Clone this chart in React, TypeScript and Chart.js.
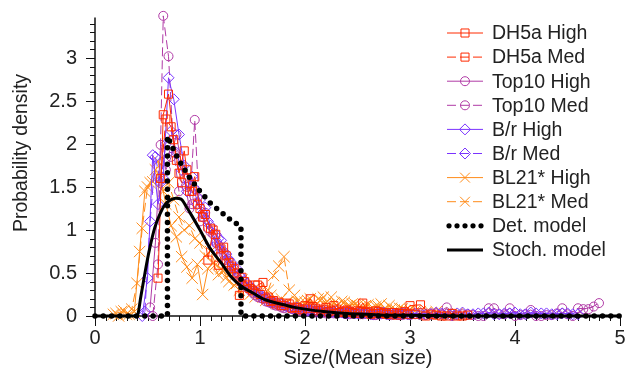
import React, { useEffect, useRef } from 'react';
import { Chart, registerables } from 'chart.js';

Chart.register(...registerables);

// ---------- bins (Size / Mean size) ----------
const BINS_A = [
  0, 0.05, 0.1, 0.15, 0.2, 0.25, 0.3, 0.35, 0.4, 0.45,
  0.5, 0.55, 0.6, 0.65, 0.7, 0.75, 0.8, 0.85, 0.9, 0.95,
  1.0, 1.05, 1.1, 1.15, 1.2, 1.25, 1.3, 1.35, 1.4, 1.45,
  1.5, 1.55, 1.6, 1.65, 1.7, 1.75, 1.8, 1.85, 1.9, 1.95,
  2.0, 2.05, 2.1, 2.15, 2.2, 2.25, 2.3, 2.35, 2.4, 2.45,
  2.5, 2.55, 2.6, 2.65, 2.7, 2.75, 2.8, 2.85, 2.9, 2.95,
  3.0, 3.1, 3.2, 3.3, 3.4, 3.5, 3.6, 3.7, 3.8, 3.9,
  4.0, 4.1, 4.2, 4.3, 4.4, 4.5, 4.6, 4.7, 4.8,
];
const BINS_B = [
  0.025, 0.075, 0.125, 0.175, 0.225, 0.275, 0.325, 0.375, 0.425, 0.475,
  0.525, 0.575, 0.625, 0.675, 0.725, 0.775, 0.825, 0.875, 0.925, 0.975,
  1.025, 1.075, 1.125, 1.175, 1.225, 1.275, 1.325, 1.375, 1.425, 1.475,
  1.525, 1.575, 1.625, 1.675, 1.725, 1.775, 1.825, 1.875, 1.925, 1.975,
  2.025, 2.075, 2.125, 2.175, 2.225, 2.275, 2.325, 2.375, 2.425, 2.475,
  2.525, 2.575, 2.625, 2.675, 2.725, 2.775, 2.825, 2.875, 2.925, 2.975,
  3.05, 3.15, 3.25, 3.35, 3.45, 3.55, 3.65, 3.75, 3.85, 3.95,
  4.05, 4.15, 4.25, 4.35, 4.45, 4.55, 4.65, 4.75,
];

// ---------- measured densities ----------
const DH5A_HIGH = [
  null, null, null, null, null, null, null, null, null, null,
  null, null, 0.44, 2.34, 2.58, 2.05, 1.66, 1.92, 1.45, 1.62,
  1.25, 1.18, 1.02, 0.95, 0.78, 0.70, 0.58, 0.50, 0.45, 0.36,
  0.30, 0.36, 0.39, 0.22, 0.18, 0.16, 0.12, 0.14, 0.10, 0.08,
  0.12, 0.20, 0.09, 0.07, 0.10, 0.06, 0.08, 0.05, 0.07, 0.04,
  0.06, 0.15, 0.05, 0.03, 0.05, 0.04, 0.02, 0.04, 0.03, 0.05,
  0.12, 0.13, 0.02, 0.00, 0.03, 0.00,
];
const DH5A_MED = [
  null, null, null, null, null, null, null, null, null, null,
  null, null, 1.60, 2.29, 2.20, 1.81, 1.55, 1.70, 1.45, 1.30,
  1.15, 0.65, 1.00, 0.59, 0.80, 0.62, 0.55, 0.24, 0.40, 0.32,
  0.36, 0.25, 0.20, 0.17, 0.14, 0.12, 0.15, 0.09, 0.10, 0.07,
  0.09, 0.11, 0.06, 0.08, 0.05, 0.12, 0.04, 0.06, 0.05, 0.03,
  0.05, 0.04, 0.02, 0.06, 0.03, 0.02, 0.04, 0.01, 0.03, 0.02,
  0.02, 0.00, 0.01, 0.00, 0.00, 0.01,
];
const TOP10_HIGH = [
  null, null, null, null, null, null, null, null, null, null,
  0.10, 0.85, 1.99, 1.70, 1.85, 2.11, 1.75, 1.50, 1.30, 1.38,
  1.15, 1.02, 0.95, 0.82, 0.72, 0.60, 0.50, 0.42, 0.35, 0.30,
  0.24, 0.21, 0.17, 0.15, 0.12, 0.10, 0.11, 0.08, 0.07, 0.06,
  0.07, 0.05, 0.06, 0.04, 0.05, 0.03, 0.04, 0.03, 0.02, 0.03,
  0.02, 0.03, 0.02, 0.01, 0.02, 0.03, 0.01, 0.02, 0.01, 0.02,
  0.02, 0.01, 0.03, 0.10, 0.01, 0.02, 0.00, 0.09, 0.02, 0.09,
  0.01, 0.07, 0.00, 0.01, 0.09, 0.00, 0.08, 0.11,
];
const TOP10_MED = [
  null, null, null, null, null, null, null, null, null, null,
  null, 0.00, 0.60, 3.49, 3.02, 1.90, 1.45, 1.60, 1.25, 2.28,
  1.10, 1.20, 0.98, 0.85, 0.70, 0.65, 0.52, 0.45, 0.38, 0.33,
  0.27, 0.22, 0.20, 0.16, 0.13, 0.12, 0.09, 0.10, 0.07, 0.06,
  0.05, 0.07, 0.04, 0.06, 0.03, 0.05, 0.03, 0.04, 0.02, 0.03,
  0.03, 0.02, 0.04, 0.01, 0.02, 0.03, 0.01, 0.02, 0.01, 0.02,
  0.01, 0.01, 0.03, 0.02, 0.00, 0.02, 0.01, 0.00, 0.09, 0.02,
  0.00, 0.02, 0.00, 0.01, 0.03, 0.02, 0.09, 0.08, 0.15,
];
const BR_HIGH = [
  null, null, null, null, null, null, null, null, null, 0.00,
  0.44, 1.87, 1.30, 1.60, 2.77, 2.52, 2.11, 1.75, 1.55, 1.48,
  1.35, 1.26, 1.05, 0.95, 0.88, 0.72, 0.62, 0.55, 0.44, 0.38,
  0.32, 0.27, 0.22, 0.20, 0.16, 0.14, 0.12, 0.10, 0.09, 0.08,
  0.07, 0.06, 0.07, 0.05, 0.06, 0.04, 0.05, 0.04, 0.03, 0.04,
  0.03, 0.04, 0.03, 0.02, 0.03, 0.04, 0.02, 0.03, 0.02, 0.03,
  0.02, 0.03, 0.02, 0.03, 0.02, 0.04, 0.02, 0.03, 0.02, 0.03,
  0.04, 0.02, 0.03, 0.03, 0.02, 0.03, 0.02,
];
const BR_MED = [
  null, null, null, null, null, null, null, null, null, 0.05,
  1.10, 1.85, 1.55, 2.00, 2.15, 1.90, 1.70, 1.45, 1.62, 1.30,
  1.20, 1.10, 0.80, 0.90, 0.75, 0.66, 0.55, 0.48, 0.40, 0.34,
  0.28, 0.24, 0.20, 0.17, 0.15, 0.13, 0.11, 0.09, 0.10, 0.07,
  0.06, 0.08, 0.05, 0.06, 0.04, 0.05, 0.04, 0.03, 0.05, 0.03,
  0.04, 0.03, 0.02, 0.04, 0.03, 0.02, 0.03, 0.02, 0.03, 0.02,
  0.03, 0.02, 0.04, 0.02, 0.03, 0.02, 0.03, 0.04, 0.02, 0.03,
  0.02, 0.04, 0.03, 0.02, 0.03, 0.02,
];
const BL21_HIGH = [
  null, null, null, 0.02, 0.00, 0.06, 0.02, 0.05, 0.75, 1.45,
  1.55, 1.70, 1.60, 1.30, 1.05, 0.92, 0.69, 0.57, 0.44, 0.60,
  0.25, 0.55, 0.62, 0.48, 0.52, 0.40, 0.36, 0.30, 0.33, 0.25,
  0.22, 0.28, 0.18, 0.24, 0.15, 0.20, 0.16, 0.13, 0.17, 0.12,
  0.18, 0.14, 0.20, 0.22, 0.12, 0.15, 0.10, 0.16, 0.12, 0.14,
  0.10, 0.12, 0.08, 0.11, 0.14, 0.07, 0.09, 0.06, 0.08, 0.05,
  0.06, 0.04, 0.05, 0.02, 0.03,
];
const BL21_MED = [
  null, null, null, null, 0.03, 0.05, 0.02, 0.08, 0.38, 1.02,
  1.50, 1.56, 1.80, 1.45, 1.55, 1.35, 1.15, 1.00, 1.05, 0.90,
  0.85, 0.70, 0.75, 0.60, 0.55, 0.45, 0.50, 0.38, 0.42, 0.32,
  0.28, 0.30, 0.22, 0.30, 0.47, 0.58, 0.69, 0.30, 0.24, 0.15,
  0.16, 0.20, 0.13, 0.18, 0.15, 0.22, 0.12, 0.17, 0.11, 0.14,
  0.12, 0.10, 0.13, 0.09, 0.11, 0.08, 0.12, 0.07, 0.09, 0.06,
  0.07, 0.05, 0.04, 0.03, 0.02,
];

// ---------- models ----------
const DET_X = [0, 0.69, 0.69, 0.75, 0.8, 0.9, 1.0, 1.1, 1.2, 1.3, 1.39, 1.39, 5];
const DET_Y = [0, 0, 2.09, 1.93, 1.81, 1.61, 1.45, 1.31, 1.21, 1.11, 1.04, 0, 0];
const STOCH_X = [0, 0.4, 0.44, 0.48, 0.52, 0.57, 0.62, 0.67, 0.72, 0.77, 0.82, 0.87, 0.92, 1.0, 1.1, 1.2, 1.3, 1.4, 1.5, 1.6, 1.7, 1.8, 1.9, 2.0, 2.2, 2.4, 2.6, 2.8, 3.0, 3.5, 4.0, 5.0];
const STOCH_Y = [0, 0, 0.25, 0.53, 0.78, 1.03, 1.19, 1.30, 1.35, 1.37, 1.36, 1.27, 1.17, 1.0, 0.78, 0.62, 0.45, 0.34, 0.27, 0.20, 0.16, 0.13, 0.10, 0.08, 0.05, 0.03, 0.02, 0.01, 0.01, 0, 0, 0];

// ---------- axes ----------
const X_TICKS = [0, 1, 2, 3, 4, 5];
const X_TICK_LABELS = ['0', '1', '2', '3', '4', '5'];
const Y_TICKS = [0, 0.5, 1, 1.5, 2, 2.5, 3];
const Y_TICK_LABELS = ['0', '0.5', '1', '1.5', '2', '2.5', '3'];
const X_TITLE = 'Size/(Mean size)';
const Y_TITLE = 'Probability density';

// ---------- styles ----------
const RED = '#ff2a00';
const MAGENTA = '#b03aa6';
const VIOLET = '#7a33ff';
const ORANGE = '#ff8c1a';
const FONT = '"Liberation Sans", Arial, Helvetica, sans-serif';
const TEXT = '#222222';
const DASH = [9, 4];

type SeriesDef = {
  label: string; bins: number[]; values: (number | null)[];
  color: string; marker: string; radius: number; dashed: boolean; order: number;
};

const SERIES: SeriesDef[] = [
  { label: 'DH5a High', bins: BINS_A, values: DH5A_HIGH, color: RED, marker: 'rect', radius: 5.7, dashed: false, order: 1 },
  { label: 'DH5a Med', bins: BINS_B, values: DH5A_MED, color: RED, marker: 'rect', radius: 5.7, dashed: true, order: 1 },
  { label: 'Top10 High', bins: BINS_B, values: TOP10_HIGH, color: MAGENTA, marker: 'circle', radius: 4.5, dashed: false, order: 3 },
  { label: 'Top10 Med', bins: BINS_A, values: TOP10_MED, color: MAGENTA, marker: 'circle', radius: 4.5, dashed: true, order: 3 },
  { label: 'B/r High', bins: BINS_A, values: BR_HIGH, color: VIOLET, marker: 'rectRot', radius: 5.5, dashed: false, order: 2 },
  { label: 'B/r Med', bins: BINS_B, values: BR_MED, color: VIOLET, marker: 'rectRot', radius: 5.5, dashed: true, order: 2 },
  { label: 'BL21* High', bins: BINS_B, values: BL21_HIGH, color: ORANGE, marker: 'crossRot', radius: 8, dashed: false, order: 4 },
  { label: 'BL21* Med', bins: BINS_A, values: BL21_MED, color: ORANGE, marker: 'crossRot', radius: 8, dashed: true, order: 4 },
];

function toPoints(xs: number[], ys: (number | null)[]) {
  const pts: { x: number; y: number }[] = [];
  ys.forEach((v, i) => {
    if (v !== null && v !== undefined && xs[i] !== undefined) pts.push({ x: xs[i], y: v });
  });
  return pts;
}

function drawMarker(ctx: CanvasRenderingContext2D, marker: string, x: number, y: number, r: number) {
  ctx.beginPath();
  if (marker === 'rect') {
    const s = r * Math.SQRT1_2;
    ctx.rect(x - s, y - s, 2 * s, 2 * s);
  } else if (marker === 'circle') {
    ctx.arc(x, y, r, 0, Math.PI * 2);
  } else if (marker === 'rectRot') {
    ctx.moveTo(x, y - r); ctx.lineTo(x + r, y); ctx.lineTo(x, y + r); ctx.lineTo(x - r, y); ctx.closePath();
  } else if (marker === 'crossRot') {
    const d = r * Math.SQRT1_2;
    ctx.moveTo(x - d, y - d); ctx.lineTo(x + d, y + d);
    ctx.moveTo(x + d, y - d); ctx.lineTo(x - d, y + d);
  }
  ctx.stroke();
}

const axesPlugin = {
  id: 'customAxes',
  beforeDatasetsDraw(chart: any) {
    const { ctx, scales } = chart;
    const xs = scales.x, ys = scales.y;
    ctx.save();
    ctx.strokeStyle = '#111';
    ctx.lineWidth = 1.5;
    const y0 = ys.getPixelForValue(0);
    const x0 = xs.getPixelForValue(0);
    ctx.beginPath();
    ctx.moveTo(x0, ys.getPixelForValue(3.47));
    ctx.lineTo(x0, y0);
    ctx.lineTo(xs.getPixelForValue(5), y0);
    ctx.stroke();
    ctx.lineWidth = 1;
    ctx.beginPath();
    for (let i = 0; i <= 34; i++) {
      const py = Math.round(ys.getPixelForValue(i / 10)) + 0.5;
      const len = i % 5 === 0 ? 9 : 5;
      ctx.moveTo(x0, py); ctx.lineTo(x0 - len, py);
    }
    for (let i = 0; i <= 50; i++) {
      const px = Math.round(xs.getPixelForValue(i / 10)) + 0.5;
      const len = i % 10 === 0 ? 10 : 5;
      ctx.moveTo(px, y0); ctx.lineTo(px, y0 + len);
    }
    ctx.stroke();
    ctx.fillStyle = TEXT;
    ctx.font = `20px ${FONT}`;
    ctx.textBaseline = 'middle';
    ctx.textAlign = 'right';
    Y_TICKS.forEach((v, i) => ctx.fillText(Y_TICK_LABELS[i], x0 - 18, ys.getPixelForValue(v)));
    ctx.textAlign = 'center';
    X_TICKS.forEach((v, i) => ctx.fillText(X_TICK_LABELS[i], xs.getPixelForValue(v), 338));
    ctx.font = `20px ${FONT}`;
    ctx.fillText(X_TITLE, 358, 358);
    ctx.font = `19.5px ${FONT}`;
    ctx.save();
    ctx.translate(22, 153);
    ctx.rotate(-Math.PI / 2);
    ctx.fillText(Y_TITLE, 0, 0);
    ctx.restore();
    ctx.restore();
  },
};

const legendPlugin = {
  id: 'customLegend',
  afterDraw(chart: any) {
    const ctx: CanvasRenderingContext2D = chart.ctx;
    const x1 = 447, x2 = 483, xm = 465, tx = 492, top = 33, step = 24.1;
    ctx.save();
    ctx.font = `19.5px ${FONT}`;
    ctx.textBaseline = 'middle';
    ctx.textAlign = 'left';
    SERIES.forEach((s, i) => {
      const y = top + i * step;
      ctx.strokeStyle = s.color;
      ctx.lineWidth = 1;
      ctx.setLineDash(s.dashed ? DASH : []);
      ctx.beginPath(); ctx.moveTo(x1, y); ctx.lineTo(x2, y); ctx.stroke();
      ctx.setLineDash([]);
      drawMarker(ctx, s.marker, xm, y, s.marker === 'crossRot' ? 7 : s.radius);
      ctx.fillStyle = TEXT;
      ctx.fillText(s.label, tx, y + 1);
    });
    let y = top + 8 * step;
    ctx.fillStyle = '#000';
    for (let k = 0; k < 5; k++) {
      ctx.beginPath(); ctx.arc(x1 + 2 + k * 8, y, 2.6, 0, Math.PI * 2); ctx.fill();
    }
    ctx.fillStyle = TEXT;
    ctx.fillText('Det. model', tx, y + 1);
    y = top + 9 * step;
    ctx.strokeStyle = '#000'; ctx.lineWidth = 3;
    ctx.beginPath(); ctx.moveTo(x1, y); ctx.lineTo(x2, y); ctx.stroke();
    ctx.fillText('Stoch. model', tx, y + 1);
    ctx.restore();
  },
};

export default function App() {
  const ref = useRef<HTMLCanvasElement>(null);
  useEffect(() => {
    document.body.style.margin = '0';
    const canvas = ref.current;
    if (!canvas) return;
    const dataSets: any[] = [
      {
        label: 'Det. model',
        data: toPoints(DET_X, DET_Y),
        borderColor: '#000', borderWidth: 5.5, borderDash: [0, 8.3], borderCapStyle: 'round',
        pointRadius: 0, fill: false, tension: 0, order: 0, clip: false,
      },
      {
        label: 'Stoch. model',
        data: toPoints(STOCH_X, STOCH_Y),
        borderColor: '#000', borderWidth: 3, pointRadius: 0, fill: false,
        cubicInterpolationMode: 'monotone', order: 0, clip: false,
      },
      ...SERIES.map((s) => ({
        label: s.label,
        data: toPoints(s.bins, s.values),
        borderColor: s.color,
        borderWidth: 1,
        borderDash: s.dashed ? DASH : [],
        pointStyle: s.marker,
        pointRadius: s.radius,
        pointBorderColor: s.color,
        pointBackgroundColor: 'rgba(0,0,0,0)',
        pointBorderWidth: 1,
        fill: false,
        tension: 0,
        order: s.order,
        clip: false,
      })),
    ];
    const chart = new Chart(canvas, {
      type: 'line',
      data: { datasets: dataSets },
      options: {
        animation: false,
        responsive: false,
        devicePixelRatio: 1,
        events: [],
        layout: { padding: { left: 95, right: 7, top: 15, bottom: 56 } },
        scales: {
          x: { type: 'linear', min: 0, max: 5, display: false },
          y: { type: 'linear', min: 0, max: 3.5, display: false },
        },
        plugins: { legend: { display: false }, tooltip: { enabled: false } },
      },
      plugins: [axesPlugin, legendPlugin],
    } as any);
    return () => chart.destroy();
  }, []);
  return <canvas ref={ref} width={629} height={372} style={{ display: 'block' }} />;
}
